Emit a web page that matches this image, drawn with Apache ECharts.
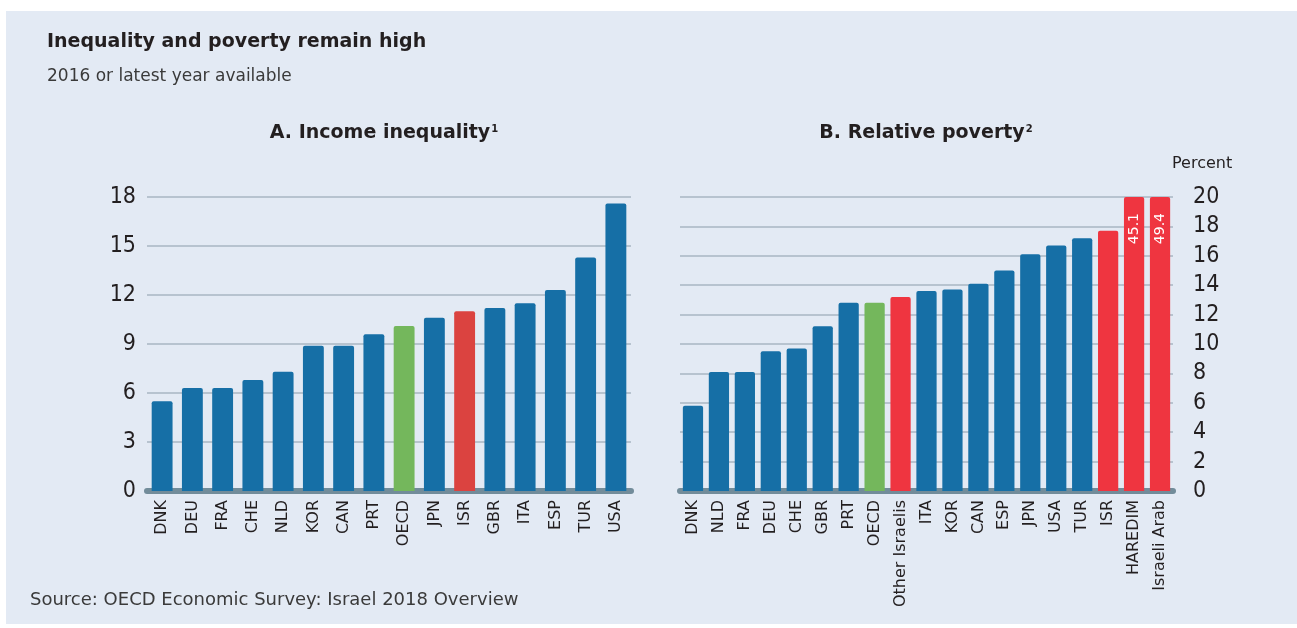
<!DOCTYPE html>
<html>
<head>
<meta charset="utf-8">
<title>Inequality and poverty remain high</title>
<script src="https://cdn.jsdelivr.net/npm/echarts@6/dist/echarts.min.js"></script>
<style>
  html, body { margin: 0; padding: 0; background: #ffffff; }
  #chart { width: 1297px; height: 628px; }
</style>
</head>
<body>
<div id="chart"></div>
<script>
// Panel A: income inequality (S80/S20 ratio)
const catsA = ['DNK','DEU','FRA','CHE','NLD','KOR','CAN','PRT','OECD','JPN','ISR','GBR','ITA','ESP','TUR','USA'];
const valsA = [5.5, 6.3, 6.3, 6.8, 7.3, 8.9, 8.9, 9.6, 10.1, 10.6, 11.0, 11.2, 11.5, 12.3, 14.3, 17.6];
const ticksA = { min: 0, max: 18, step: 3 };

// Panel B: relative poverty rate, percent
const catsB = ['DNK','NLD','FRA','DEU','CHE','GBR','PRT','OECD','Other Israelis','ITA','KOR','CAN','ESP','JPN','USA','TUR','ISR','HAREDIM','Israeli Arab'];
const valsB = [5.8, 8.1, 8.1, 9.5, 9.7, 11.2, 12.8, 12.8, 13.2, 13.6, 13.7, 14.1, 15.0, 16.1, 16.7, 17.2, 17.7, 45.1, 49.4];
const ticksB = { min: 0, max: 20, step: 2 };

// Which bars stand out from the country bars
const oecdCats = ['OECD'];
const israelCats = ['ISR', 'Other Israelis', 'HAREDIM', 'Israeli Arab'];
const labelledCats = ['HAREDIM', 'Israeli Arab'];

const BLUE = '#166fa6', GREEN = '#74b75c', RED_A = '#db4340', RED_B = '#ef3540';
const GRID_LINE = '#a9b6c3', AXIS_LINE = '#728c9a', INK = '#231f20', SOFT_INK = '#3a3a3a';
const SANS = '"DejaVu Sans", Inter, sans-serif';
const NARROW = '"Liberation Sans Narrow", "DejaVu Sans Condensed", sans-serif';

function barColor(cat, red) {
  if (oecdCats.includes(cat)) return GREEN;
  if (israelCats.includes(cat)) return red;
  return BLUE;
}

function buildData(cats, vals, red) {
  return cats.map((c, i) => {
    const item = { value: vals[i], itemStyle: { color: barColor(c, red) } };
    if (labelledCats.includes(c)) {
      item.label = {
        show: true, position: 'insideTop', rotate: 90, align: 'right', verticalAlign: 'middle',
        distance: 16, color: '#ffffff', fontFamily: SANS, fontSize: 14,
        formatter: p => p.value.toFixed(1)
      };
    }
    return item;
  });
}

function xAxisFor(gridIndex, cats) {
  return {
    type: 'category', gridIndex, data: cats,
    axisLine: { show: true, lineStyle: { color: AXIS_LINE, width: 6, cap: 'round' } },
    axisTick: { show: false },
    axisLabel: { rotate: 90, margin: 9, color: INK, fontFamily: SANS, fontSize: 16, interval: 0 }
  };
}

function yAxisFor(gridIndex, t, position, margin, align) {
  return {
    type: 'value', gridIndex, position, min: t.min, max: t.max, interval: t.step,
    axisLine: { show: false }, axisTick: { show: false },
    splitLine: { show: true, lineStyle: { color: GRID_LINE, width: 1.6 } },
    axisLabel: { margin, color: INK, fontFamily: NARROW, fontSize: 23, align }
  };
}

const supStyle = { fontFamily: SANS, fontSize: 10, fontWeight: 'bold', color: INK, verticalAlign: 'top', padding: [0, 0, 9, 1] };

const chart = echarts.init(document.getElementById('chart'), null, { renderer: 'canvas' });

chart.setOption({
  backgroundColor: '#ffffff',
  animation: false,
  graphic: [
    { type: 'rect', z: -100, silent: true, shape: { x: 6, y: 11, width: 1291, height: 613 },
      style: { fill: '#e3eaf4' } }
  ],
  title: [
    { text: 'Inequality and poverty remain high', left: 47, top: 33, padding: 0,
      textStyle: { fontFamily: SANS, fontSize: 19, fontWeight: 'bold', color: INK } },
    { text: '2016 or latest year available', left: 47, top: 68, padding: 0,
      textStyle: { fontFamily: SANS, fontSize: 17, fontWeight: 'normal', color: SOFT_INK } },
    { text: 'A. Income inequality{sup|1}', left: 384, top: 124, padding: 0, textAlign: 'center',
      textStyle: { fontFamily: SANS, fontSize: 19, fontWeight: 'bold', color: INK, rich: { sup: supStyle } } },
    { text: 'B. Relative poverty{sup|2}', left: 926, top: 124, padding: 0, textAlign: 'center',
      textStyle: { fontFamily: SANS, fontSize: 19, fontWeight: 'bold', color: INK, rich: { sup: supStyle } } },
    { text: 'Percent', left: 1172, top: 156, padding: 0,
      textStyle: { fontFamily: SANS, fontSize: 16, fontWeight: 'normal', color: INK } },
    { text: 'Source: OECD Economic Survey: Israel 2018 Overview', left: 30, top: 591, padding: 0,
      textStyle: { fontFamily: SANS, fontSize: 18, fontWeight: 'normal', color: SOFT_INK } }
  ],
  grid: [
    { left: 147, right: 666, top: 197, bottom: 137 },
    { left: 680, right: 124, top: 197, bottom: 137 }
  ],
  xAxis: [xAxisFor(0, catsA), xAxisFor(1, catsB)],
  yAxis: [
    yAxisFor(0, ticksA, 'left', 11, 'right'),
    yAxisFor(1, ticksB, 'right', 20, 'left')
  ],
  series: [
    { type: 'bar', xAxisIndex: 0, yAxisIndex: 0, data: buildData(catsA, valsA, RED_A),
      barCategoryGap: '31%', clip: true, itemStyle: { borderRadius: [2, 2, 0, 0] }, z: 1 },
    { type: 'bar', xAxisIndex: 1, yAxisIndex: 1, data: buildData(catsB, valsB, RED_B),
      barCategoryGap: '22%', clip: true, itemStyle: { borderRadius: [2, 2, 0, 0] }, z: 1 }
  ]
});
</script>
</body>
</html>
